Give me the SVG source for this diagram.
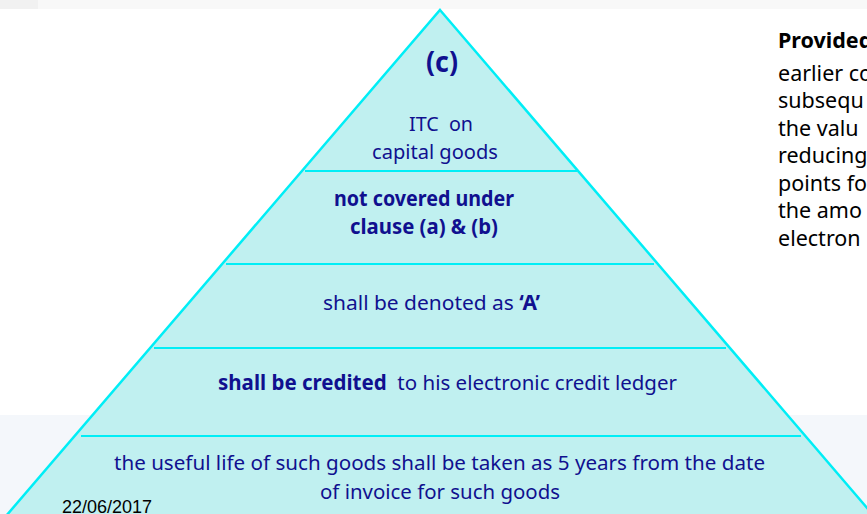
<svg xmlns="http://www.w3.org/2000/svg" width="867" height="514" viewBox="0 0 867 514">
  <style>
    .tier { fill: none; stroke: #00eef6; stroke-width: 2; }
    .t { font-family: "Noto Sans", "Liberation Sans", sans-serif; fill: #10108f; font-size: 20.5px; }
    .b { font-weight: bold; }
    .apex { font-size: 29px; }
    .side { font-family: "Noto Sans", "Liberation Sans", sans-serif; fill: #000; font-size: 21.5px; }
    .date { font-family: "Liberation Sans", Arial, sans-serif; fill: #000; font-size: 18px; }
  </style>

  <!-- page background -->
  <rect x="0" y="0" width="867" height="514" fill="#ffffff"/>
  <rect x="0" y="0" width="867" height="9" fill="#f8f8f8"/>
  <rect x="0" y="0" width="38" height="9" fill="#f1f1f1"/>
  <rect x="0" y="415" width="867" height="99" fill="#f4f7fb"/>

  <!-- pyramid body -->
  <g id="pyramid">
    <polygon points="440,10 886,530 -6,530" fill="#c0f0f0" stroke="#00eef6" stroke-width="2.5"/>
  </g>

  <!-- apex tier -->
  <g id="tier-apex">
    <text class="t b apex" x="426" y="72" textLength="32" lengthAdjust="spacingAndGlyphs">(c)</text>
    <text class="t" x="409" y="131" textLength="64" lengthAdjust="spacingAndGlyphs" xml:space="preserve">ITC  on</text>
    <text class="t" x="372" y="159" textLength="126" lengthAdjust="spacingAndGlyphs">capital goods</text>
  </g>

  <!-- second tier -->
  <g id="tier-scope">
    <line class="tier" x1="305" y1="171" x2="577" y2="171"/>
    <text class="t b" x="334" y="206" textLength="180" lengthAdjust="spacingAndGlyphs">not covered under</text>
    <text class="t b" x="350" y="234" textLength="148" lengthAdjust="spacingAndGlyphs">clause (a) &amp; (b)</text>
  </g>

  <!-- third tier -->
  <g id="tier-denoted">
    <line class="tier" x1="226" y1="264" x2="654" y2="264"/>
    <text class="t" x="323" y="310" textLength="217" lengthAdjust="spacingAndGlyphs">shall be denoted as <tspan class="b">‘A’</tspan></text>
  </g>

  <!-- fourth tier -->
  <g id="tier-credited">
    <line class="tier" x1="154" y1="348" x2="726" y2="348"/>
    <text class="t" x="218" y="390" textLength="459" lengthAdjust="spacingAndGlyphs" xml:space="preserve"><tspan class="b">shall be credited</tspan>  to his electronic credit ledger</text>
  </g>

  <!-- base tier -->
  <g id="tier-life">
    <line class="tier" x1="81" y1="436" x2="801" y2="436"/>
    <text class="t" x="114" y="470" textLength="651" lengthAdjust="spacingAndGlyphs">the useful life of such goods shall be taken as 5 years from the date</text>
    <text class="t" x="320" y="499" textLength="240" lengthAdjust="spacingAndGlyphs">of invoice for such goods</text>
  </g>

  <!-- side note -->
  <g id="side-note">
    <text class="side b" x="778" y="48">Provided</text>
    <text class="side" x="778" y="81">earlier co</text>
    <text class="side" x="778" y="108">subsequ</text>
    <text class="side" x="778" y="136">the valu</text>
    <text class="side" x="778" y="163">reducing</text>
    <text class="side" x="778" y="191">points fo</text>
    <text class="side" x="778" y="218">the amo</text>
    <text class="side" x="778" y="246">electron</text>
  </g>

  <!-- footer date -->
  <text class="date" x="62" y="513">22/06/2017</text>
</svg>
